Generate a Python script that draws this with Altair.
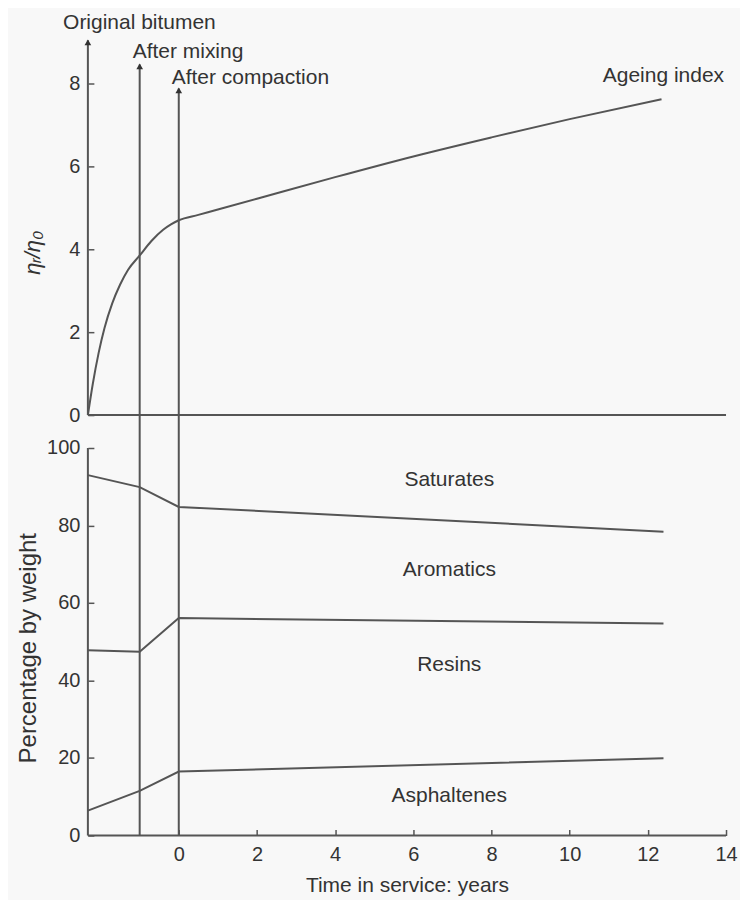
import altair as alt
import pandas as pd

# ---- data ----
# Ageing index (viscosity ratio) curve
age_x = [-2.325, -2.2, -2.05, -1.9, -1.7, -1.5, -1.3, -1.0, -0.7, -0.4, -0.2, 0.0, 0.5, 1.0, 2.0, 4.0, 6.0, 8.0, 10.0, 12.35]
age_y = [0.0, 0.75, 1.5, 2.1, 2.7, 3.15, 3.5, 3.85, 4.2, 4.47, 4.60, 4.70, 4.83, 4.96, 5.22, 5.74, 6.24, 6.70, 7.14, 7.62]

# Composition boundaries (percentage by weight)
comp_x = [-2.325, -1.0, 0.0, 12.4]
sat_boundary = [93.0, 89.9, 84.8, 78.4]
aro_boundary = [47.8, 47.4, 56.1, 54.7]
res_boundary = [6.4, 11.5, 16.5, 19.9]

# Process stages (arrows)
stage_names = ["Original bitumen", "After mixing", "After compaction"]
stage_x = [-2.325, -1.0, 0.0]
stage_tip = [9.04, 8.46, 7.88]
stage_label_x = [-2.96, -1.18, -0.18]
stage_label_y = [9.47, 8.77, 8.14]

# Fraction labels
fraction_names = ["Saturates", "Aromatics", "Resins", "Asphaltenes"]
fraction_label_x = [6.92, 6.92, 6.92, 6.92]
fraction_label_y = [91.8, 68.6, 44.1, 10.1]

# ---- layout constants ----
X_MIN, X_MAX = -2.325, 14
TOP_MIN, TOP_MAX = -0.795, 9.71
W = 639
TOP_H = 436
BOT_H = 388
FONT = "Liberation Sans"
FS = 21
LFS = 20
INK = "#555555"
TXT = "#333333"

xs = alt.Scale(domain=[X_MIN, X_MAX], nice=False, zero=False)
ys_top = alt.Scale(domain=[TOP_MIN, TOP_MAX], nice=False, zero=False)
ys_bot = alt.Scale(domain=[0, 100], nice=False, zero=False)

# ---- top panel ----
age_df = pd.DataFrame({"t": age_x, "r": age_y})
stage_df = pd.DataFrame({
    "name": stage_names, "t": stage_x, "tip": stage_tip,
    "start": [0.0, TOP_MIN, TOP_MIN],
    "lx": stage_label_x, "ly": stage_label_y,
})
zero_df = pd.DataFrame({"a": [X_MIN], "b": [X_MAX], "y": [0.0]})
age_lab = pd.DataFrame({"lx": [13.95], "ly": [8.19], "name": ["Ageing index"]})

top_y_axis = alt.Axis(
    values=[0, 2, 4, 6, 8], domain=False, offset=-6, tickSize=6, tickWidth=1.5,
    tickColor=INK, labelPadding=8, grid=False, title="ηᵣ/η₀", titlePadding=24,
    titleFontStyle="italic", titleFontSize=22, titleY=240,
)

age_line = alt.Chart(age_df).mark_line(color=INK, strokeWidth=2, interpolate="monotone").encode(
    x=alt.X("t:Q", scale=xs, axis=None),
    y=alt.Y("r:Q", scale=ys_top, axis=top_y_axis),
)
zero_rule = alt.Chart(zero_df).mark_rule(color=INK, strokeWidth=2).encode(
    x=alt.X("a:Q", scale=xs), x2="b:Q", y=alt.Y("y:Q", scale=ys_top)
)
stage_rules = alt.Chart(stage_df).mark_rule(color=INK, strokeWidth=2).encode(
    x=alt.X("t:Q", scale=xs), y=alt.Y("start:Q", scale=ys_top), y2="tip:Q"
)
arrow_heads = alt.Chart(stage_df).mark_point(
    shape="triangle-up", filled=True, size=45, color="#333333", opacity=1, yOffset=2
).encode(x=alt.X("t:Q", scale=xs), y=alt.Y("tip:Q", scale=ys_top))
stage_text = alt.Chart(stage_df).mark_text(
    align="left", baseline="middle", font=FONT, fontSize=FS, color=TXT
).encode(x=alt.X("lx:Q", scale=xs), y=alt.Y("ly:Q", scale=ys_top), text="name:N")
age_text = alt.Chart(age_lab).mark_text(
    align="right", baseline="middle", font=FONT, fontSize=FS, color=TXT
).encode(x=alt.X("lx:Q", scale=xs), y=alt.Y("ly:Q", scale=ys_top), text="name:N")

top = alt.layer(age_line, zero_rule, stage_rules, arrow_heads, stage_text, age_text).properties(
    width=W, height=TOP_H
)

# ---- bottom panel ----
comp_df = pd.concat([
    pd.DataFrame({"t": comp_x, "p": sat_boundary, "s": "sat"}),
    pd.DataFrame({"t": comp_x, "p": aro_boundary, "s": "aro"}),
    pd.DataFrame({"t": comp_x, "p": res_boundary, "s": "res"}),
])
frac_df = pd.DataFrame({"name": fraction_names, "lx": fraction_label_x, "ly": fraction_label_y})
bot_stage_df = pd.DataFrame({"t": stage_x[1:], "a": [0.0, 0.0], "b": [100.0, 100.0]})
axis_rules_df = pd.DataFrame({"a": [X_MIN], "b": [X_MAX], "y0": [0.0], "y1": [100.0]})

bot_y_axis = alt.Axis(
    values=[0, 20, 40, 60, 80, 100], domain=False, offset=-6, tickSize=6, tickWidth=1.5,
    tickColor=INK, labelPadding=8, grid=False, title="Percentage by weight", titlePadding=6,
    titleFontSize=24, titleY=200,
)
bot_x_axis = alt.Axis(
    values=[0, 2, 4, 6, 8, 10, 12, 14], domain=False, offset=-6, tickSize=6, tickWidth=1.5,
    tickColor=INK, labelPadding=9, grid=False, title="Time in service: years", titlePadding=10,
    labelFlush=False,
)

comp_lines = alt.Chart(comp_df).mark_line(color=INK, strokeWidth=2).encode(
    x=alt.X("t:Q", scale=xs, axis=bot_x_axis),
    y=alt.Y("p:Q", scale=ys_bot, axis=bot_y_axis),
    detail="s:N",
)
x_axis_line = alt.Chart(axis_rules_df).mark_rule(color=INK, strokeWidth=2).encode(
    x=alt.X("a:Q", scale=xs), x2="b:Q", y=alt.Y("y0:Q", scale=ys_bot)
)
y_axis_line = alt.Chart(axis_rules_df).mark_rule(color=INK, strokeWidth=2).encode(
    x=alt.X("a:Q", scale=xs), y=alt.Y("y0:Q", scale=ys_bot), y2="y1:Q"
)
bot_stage_rules = alt.Chart(bot_stage_df).mark_rule(color=INK, strokeWidth=2).encode(
    x=alt.X("t:Q", scale=xs), y=alt.Y("a:Q", scale=ys_bot), y2="b:Q"
)
frac_text = alt.Chart(frac_df).mark_text(
    align="center", baseline="middle", font=FONT, fontSize=FS, color=TXT
).encode(x=alt.X("lx:Q", scale=xs), y=alt.Y("ly:Q", scale=ys_bot), text="name:N")

bottom = alt.layer(comp_lines, x_axis_line, y_axis_line, bot_stage_rules, frac_text).properties(
    width=W, height=BOT_H
)

chart = alt.vconcat(top, bottom, spacing=0, bounds="flush").properties(
    padding={"left": 8, "top": 2, "right": 2, "bottom": 4},
    background="#f8f8f8",
).configure_view(stroke=None).configure_axis(
    labelFont=FONT, titleFont=FONT, labelFontSize=LFS, titleFontSize=FS,
    labelColor=TXT, titleColor=TXT, titleFontWeight="normal",
)

chart.save("out.html", embed_options={"renderer": "svg", "actions": False})
